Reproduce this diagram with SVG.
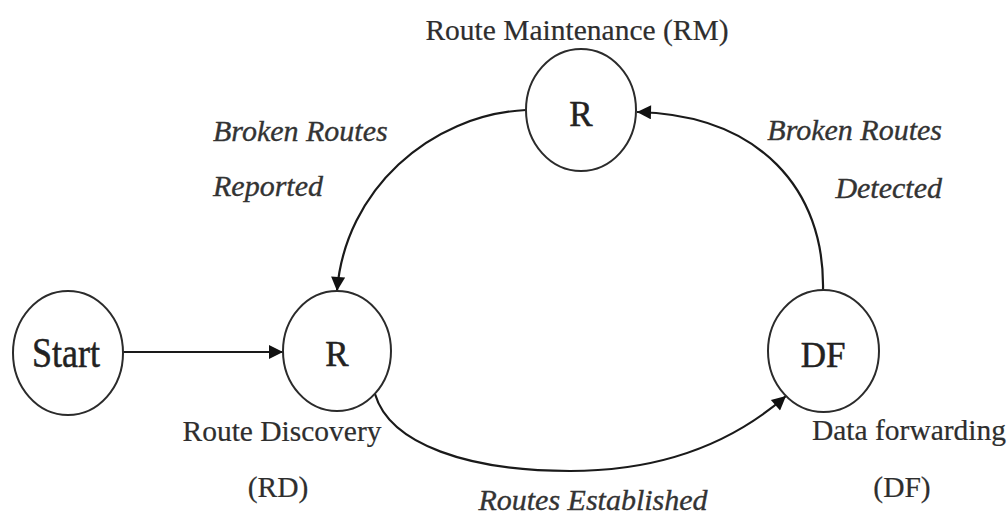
<svg xmlns="http://www.w3.org/2000/svg" width="1007" height="519" viewBox="0 0 1007 519">
  <style>
    .node { fill: #ffffff; stroke: #2b2b2b; stroke-width: 2; }
    .nlabel { font-family: "Liberation Serif", "Times New Roman", serif; fill: #222222; stroke: #222222; stroke-width: 0.5; text-anchor: middle; }
    .caption { font-family: "Liberation Serif", "Times New Roman", serif; font-size: 29.5px; fill: #2e2e2e; stroke: #2e2e2e; stroke-width: 0.2; }
    .edge-label { font-family: "Liberation Serif", "Times New Roman", serif; font-size: 30px; font-style: italic; fill: #333333; stroke: #333333; stroke-width: 0.35; }
    .edge { fill: none; stroke: #1a1a1a; stroke-width: 2.2; marker-end: url(#arrow); }
  </style>
  <defs>
    <marker id="arrow" viewBox="0 0 10 10" refX="10" refY="5" markerWidth="17" markerHeight="14" markerUnits="userSpaceOnUse" orient="auto">
      <path d="M0,0 L10,5 L0,10 Z" fill="#111111"/>
    </marker>
  </defs>

  <rect width="1007" height="519" fill="#ffffff"/>

  <!-- connectors -->
  <g id="connectors">
    <path class="edge" d="M123,352 L283,352"/>
    <path class="edge" d="M375,394 C390,445 470,471 570,471 C660,471 730,445 786,396"/>
    <path class="edge" d="M823,290 C825,190 760,115 637,112"/>
    <path class="edge" d="M526,110 C430,115 345,190 337,291"/>
  </g>

  <!-- start state -->
  <g id="node-start">
    <ellipse class="node" cx="68" cy="353" rx="55" ry="62"/>
    <text class="nlabel" x="66" y="367" font-size="42" textLength="68" lengthAdjust="spacingAndGlyphs">Start</text>
  </g>

  <!-- route discovery -->
  <g id="node-rd">
    <ellipse class="node" cx="337" cy="351" rx="54" ry="60"/>
    <text class="nlabel" x="337" y="366" font-size="35">R</text>
    <text class="caption" x="282" y="441" text-anchor="middle">Route Discovery</text>
    <text class="caption" x="278" y="497" text-anchor="middle">(RD)</text>
  </g>

  <!-- route maintenance -->
  <g id="node-rm">
    <ellipse class="node" cx="581" cy="110" rx="55" ry="61"/>
    <text class="nlabel" x="581" y="126" font-size="35">R</text>
    <text class="caption" x="577" y="40" text-anchor="middle">Route Maintenance (RM)</text>
  </g>

  <!-- data forwarding -->
  <g id="node-df">
    <ellipse class="node" cx="823.5" cy="351" rx="55.5" ry="61"/>
    <text class="nlabel" x="823" y="367" font-size="35">DF</text>
    <text class="caption" x="909" y="440" text-anchor="middle">Data forwarding</text>
    <text class="caption" x="902" y="497" text-anchor="middle">(DF)</text>
  </g>

  <!-- transition labels -->
  <g id="edge-labels">
    <text class="edge-label" x="213" y="141">Broken Routes</text>
    <text class="edge-label" x="213" y="196">Reported</text>
    <text class="edge-label" x="942" y="140" text-anchor="end">Broken Routes</text>
    <text class="edge-label" x="942" y="198" text-anchor="end">Detected</text>
    <text class="edge-label" x="593" y="510" text-anchor="middle">Routes Established</text>
  </g>
</svg>
